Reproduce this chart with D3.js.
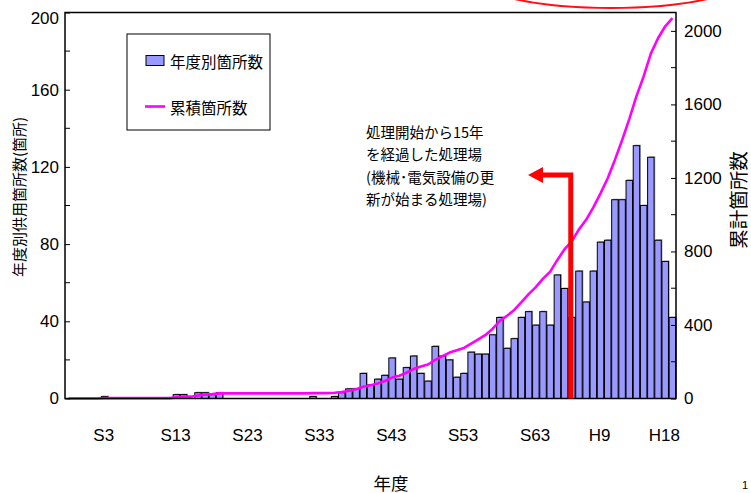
<!DOCTYPE html>
<html><head><meta charset="utf-8">
<script src="https://cdn.jsdelivr.net/npm/d3@7"></script>
<style>
html,body{margin:0;padding:0;background:#fff;}
svg{display:block;}
</style></head>
<body><svg id="c" width="751" height="493"></svg>
<script>
const years = [1922,1923,1924,1925,1926,1927,1928,1929,1930,1931,1932,1933,1934,1935,1936,1937,1938,1939,1940,1941,
1942,1943,1944,1945,1946,1947,1948,1949,1950,1951,1952,1953,1954,1955,1956,1957,1958,1959,1960,1961,
1962,1963,1964,1965,1966,1967,1968,1969,1970,1971,1972,1973,1974,1975,1976,1977,1978,1979,1980,1981,
1982,1983,1984,1985,1986,1987,1988,1989,1990,1991,1992,1993,1994,1995,1996,1997,1998,1999,2000,2001,
2002,2003,2004,2005,2006];
const annual = [0,0,0,0,0,1,0,0,0,0,0,0,0,0,0,2,2,0,3,3,
2,3,0,0,0,0,0,0,0,0,0,0,0,0,1,0,0,1,3,5,
5,13,7,10,12,21,10,16,22,13,9,27,22,20,11,13,24,23,23,33,
42,26,31,42,45,38,45,38,64,57,42,66,50,66,81,82,103,103,113,131,
100,125,82,71,42];
const cumulative = [0,0,0,0,0,2,2,2,2,2,2,2,2,2,2,6,10,10,16,21,
24,28,28,28,28,28,28,28,28,28,28,28,28,28,29,29,29,31,35,42,
50,64,72,82,95,114,124,140,160,174,185,210,230,250,262,275,298,322,346,380,
422,450,482,524,568,606,652,690,754,812,855,920,972,1040,1116,1198,1298,1405,1520,1645,
1752,1876,1960,2025,2069];
const labelYears = [1928,1938,1948,1958,1968,1978,1988,1997,2006];
const labelTexts = ["S3","S13","S23","S33","S43","S53","S63","H9","H18"];
const leftTicks = [0,40,80,120,160,200];
const leftMinor = [20,60,100,140,180];
const rightTicks = [0,400,800,1200,1600,2000];
const rightMinor = [200,600,1000,1400,1800];
const legendLabels = ["年度別箇所数","累積箇所数"];
const noteLines = ["処理開始から15年","を経過した処理場","(機械･電気設備の更","新が始まる処理場)"];
const markYear = 1992;

const svg = d3.select("#c");
const L = 65, R = 676, T = 12.5, B = 398.5;
const numFont = "'Liberation Sans', Arial, 'Noto Sans CJK JP', sans-serif";
const jpFont = "'Noto Sans CJK JP', 'Liberation Sans', sans-serif";

const x = d3.scaleBand().domain(years).range([L, R]).paddingInner(0.1).paddingOuter(0.05);
const y = d3.scaleLinear().domain([0, 200]).range([B, T]);
const y2 = d3.scaleLinear().domain([0, 2100]).range([B, T]);
const bw = x.bandwidth();

// decorative red ellipse at top
svg.append("ellipse").attr("cx", 611).attr("cy", -20).attr("rx", 131).attr("ry", 28)
  .attr("fill", "none").attr("stroke", "#ff1010").attr("stroke-width", 2);

// bars with shadow
const data = years.map((yr, i) => ({yr, v: annual[i], c: cumulative[i]})).filter(d => d.v > 0);
svg.append("g").selectAll("rect").data(data).join("rect")
  .attr("x", d => x(d.yr) + 1.2).attr("y", d => y(d.v) - 1)
  .attr("width", bw).attr("height", d => B - y(d.v))
  .attr("fill", "#7a7a7a").attr("opacity", 0.7);
svg.append("g").selectAll("rect").data(data).join("rect")
  .attr("x", d => x(d.yr)).attr("y", d => y(d.v))
  .attr("width", bw).attr("height", d => B - y(d.v))
  .attr("fill", "#9999ff").attr("stroke", "#000").attr("stroke-width", 1);

// cumulative line
const line = d3.line().x((d, i) => x(years[i]) + bw / 2).y(d => y2(d));
svg.append("path").datum(cumulative).attr("d", line)
  .attr("fill", "none").attr("stroke", "#ff00ff").attr("stroke-width", 2.6).attr("stroke-linejoin", "round");

// frame
svg.append("rect").attr("x", L).attr("y", T).attr("width", R - L).attr("height", B - T)
  .attr("fill", "none").attr("stroke", "#000").attr("stroke-width", 1.5);

// left axis
const la = d3.axisLeft(y).tickValues(leftTicks).tickSize(-5).tickPadding(6).tickFormat(d3.format("d"));
const gL = svg.append("g").attr("transform", `translate(${L},0)`).call(la);
gL.select(".domain").remove();
gL.selectAll("text").attr("font-family", numFont).attr("font-size", 17).attr("fill", "#000");
gL.selectAll("text").filter(d => d === 200).attr("dy", "0.62em");
gL.selectAll("line").attr("stroke", "#000");
svg.append("g").selectAll("line").data(leftMinor).join("line")
  .attr("x1", L).attr("x2", L + 5).attr("y1", d => y(d)).attr("y2", d => y(d)).attr("stroke", "#000");

// right axis
const ra = d3.axisRight(y2).tickValues(rightTicks).tickSize(-5).tickPadding(8).tickFormat(d3.format("d"));
const gR = svg.append("g").attr("transform", `translate(${R},0)`).call(ra);
gR.select(".domain").remove();
gR.selectAll("text").attr("font-family", numFont).attr("font-size", 17).attr("fill", "#000");
gR.selectAll("line").attr("stroke", "#000");
svg.append("g").selectAll("line").data(rightMinor).join("line")
  .attr("x1", R).attr("x2", R - 5).attr("y1", d => y2(d)).attr("y2", d => y2(d)).attr("stroke", "#000");

// x labels
svg.append("g").selectAll("text").data(labelYears).join("text")
  .attr("x", d => x(d) + bw / 2 - 8).attr("y", 435)
  .attr("text-anchor", "middle").attr("dominant-baseline", "central")
  .attr("font-family", numFont).attr("font-size", 17).attr("fill", "#000")
  .text((d, i) => labelTexts[i]);

// axis titles
svg.append("text").attr("transform", "translate(18,197) rotate(-90)")
  .attr("text-anchor", "middle").attr("dominant-baseline", "central")
  .attr("font-family", jpFont).attr("font-size", 15).attr("fill", "#000")
  .text("年度別供用箇所数(箇所)");
svg.append("text").attr("transform", "translate(737,200) rotate(-90)")
  .attr("text-anchor", "middle").attr("dominant-baseline", "central")
  .attr("font-family", jpFont).attr("font-size", 19.5).attr("fill", "#000")
  .text("累計箇所数");
svg.append("text").attr("x", 391).attr("y", 482)
  .attr("text-anchor", "middle").attr("dominant-baseline", "central")
  .attr("font-family", jpFont).attr("font-size", 17.5).attr("fill", "#000")
  .text("年度");
svg.append("text").attr("x", 742).attr("y", 489)
  .attr("font-family", numFont).attr("font-size", 11).attr("fill", "#000").text("1");

// legend
const lg = svg.append("g");
lg.append("rect").attr("x", 127).attr("y", 34).attr("width", 143).attr("height", 96)
  .attr("fill", "#fff").attr("stroke", "#000").attr("stroke-width", 1);
lg.append("rect").attr("x", 146).attr("y", 55.5).attr("width", 18).attr("height", 10)
  .attr("fill", "#9999ff").attr("stroke", "#000").attr("stroke-width", 1);
lg.append("line").attr("x1", 145).attr("x2", 165).attr("y1", 106.5).attr("y2", 106.5)
  .attr("stroke", "#ff00ff").attr("stroke-width", 2.6);
lg.selectAll("text").data(legendLabels).join("text")
  .attr("x", 170).attr("y", (d, i) => i === 0 ? 61 : 107)
  .attr("dominant-baseline", "central")
  .attr("font-family", jpFont).attr("font-size", 15.5).attr("fill", "#000")
  .text(d => d);

// annotation text
svg.append("g").selectAll("text").data(noteLines).join("text")
  .attr("x", 366).attr("y", (d, i) => 131 + i * 22.5)
  .attr("dominant-baseline", "central")
  .attr("font-family", jpFont).attr("font-size", 14.5).attr("fill", "#000")
  .text(d => d);

// red arrow
const ax = x(markYear) + bw / 2 - 1, ay = 175;
svg.append("path")
  .attr("d", `M${ax},${B} L${ax},${ay} L${541},${ay}`)
  .attr("fill", "none").attr("stroke", "#ff0000").attr("stroke-width", 5).attr("stroke-linejoin", "miter");
svg.append("path")
  .attr("d", `M${528},${ay} L${543},${ay - 8} L${543},${ay + 8} Z`)
  .attr("fill", "#ff0000");
</script></body></html>
